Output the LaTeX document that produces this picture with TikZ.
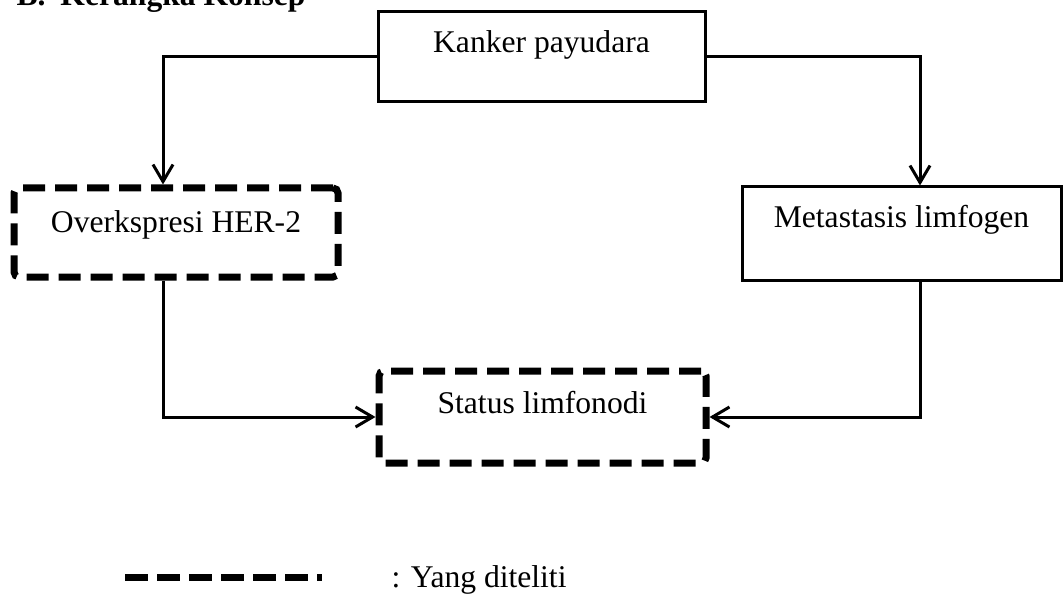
\documentclass[tikz,border=0pt]{standalone}
\usepackage{fontspec}
\setmainfont{Liberation Serif}
\usetikzlibrary{arrows.meta}
\begin{document}
\begin{tikzpicture}[x=1pt,y=-1pt,
  every node/.style={font=\fontsize{31.6}{38}\selectfont},
  solidbox/.style={draw, line width=3pt, inner xsep=0pt, inner ysep=0pt},
  dashbox/.style={draw, line width=7pt, dash pattern=on 22pt off 10pt, rounded corners=5pt, inner xsep=0pt, inner ysep=0pt},
  conn/.style={line width=3pt, -{Straight Barb[length=17pt,width=20pt,line width=3pt]}},
  legendline/.style={line width=7pt, dash pattern=on 23pt off 9pt}
]
\useasboundingbox (0,0) rectangle (1063,596);

\node[anchor=base west, font=\fontsize{31.6}{38}\selectfont\bfseries] (title) at (13,6) {B.\hspace{15pt}Kerangka Konsep};

\node[solidbox, minimum width=327pt, text height=41pt, text depth=49pt] (kanker) at (541.5,57) {Kanker payudara};
\node[dashbox, minimum width=324pt, text height=45pt, text depth=44pt] (over) at (176,232.5) {Overkspresi HER-2};
\node[solidbox, minimum width=319pt, text height=41pt, text depth=52pt] (meta) at (901.5,233.5) {Metastasis limfogen};
\node[dashbox, minimum width=327pt, text height=42pt, text depth=50pt] (status) at (542.5,417) {Status limfonodi};

\draw[conn] (kanker.west) -| ([xshift=-13pt]over.north);
\draw[conn] (kanker.east) -| ([xshift=18.5pt]meta.north);
\draw[conn] ([xshift=-13pt]over.south) |- (status.west);
\draw[conn] ([xshift=18.5pt]meta.south) |- (status.east);

\coordinate (legA) at (125,577);
\coordinate (legB) at (322,577);
\draw[legendline] (legA) -- (legB);
\node[anchor=base west] (legtext) at (388,587) {: Yang diteliti};
\end{tikzpicture}
\end{document}
